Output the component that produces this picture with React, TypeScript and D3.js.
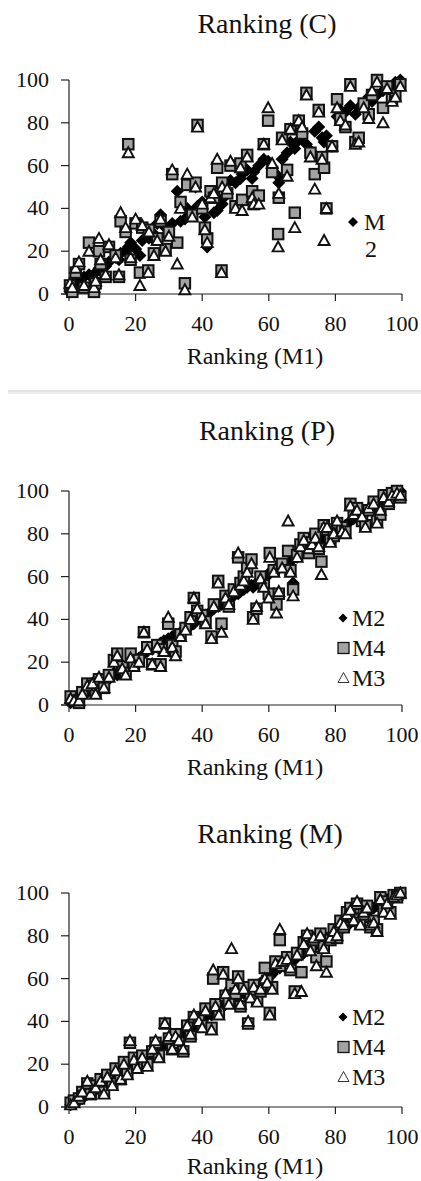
import React from "react";
import * as d3 from "d3";

// ---------- data ----------
const AXIS_TICKS = [0, 20, 40, 60, 80, 100];
const X_TITLE = "Ranking (M1)";

// Panel C
const C_X = [0.3,1,2,3,4.5,6,7.5,8,9,9.5, 11,12,14,15,15.5,17,17.8,18.5,20,21.3, 22,23.8,24,25.5,26.5,27.5,29,30,31,32.5, 33.5,34.8,35.5,37,38,38.6,40,40.8,41.5,42.5, 43.5,44.5,45.8,46,47.5,48.5,50,51.5,52,53.5, 55,55.5,57,58.5,59.8,61,62.8,63,64,65.5, 66.5,67.8,69,70,71.3,72.5,73.8,75,76,76.6, 77.3,79,80.5,81.5,83,84.5,86,87,88.5,90, 91,92.5,94.3,95.5,97,98,99.5];
const C_M2 = [1,2,6,5,8,9,7,10,12,11, 13,15,17,16,19,20,22,24,21,18, 25,27,26,28,33,37,31,30,33,48, 34,35,40,38,50,41,43,36,22,46, 38,39,44,42,47,53,52,54,56,58, 54,57,60,63,62,59,55,52,63,66, 71,68,72,75,70,67,76,78,73,71, 74,69,83,86,85,88,84,87,89,92, 90,93,95,96,97,99,100];
const C_M4 = [4,1,10,14,3,24,1,5,20,14, 8,22,18,8,34,29,70,16,33,10, 31,11,30,19,26,34,21,29,56,24, 43,5,51,37,52,79,40,31,26,48, 45,59,11,52,47,60,41,61,44,65, 48,42,46,70,81,57,28,45,73,58, 77,38,81,75,94,66,56,86,64,59, 40,69,91,82,78,98,71,73,89,84, 93,100,87,97,91,93,98];
const C_M3 = [5,3,12,15,4,20,3,6,26,16, 9,23,17,9,38,31,66,17,35,4, 32,10,29,18,25,35,20,27,58,14, 40,2,56,36,50,78,42,30,24,45, 47,63,10,50,49,62,40,59,39,64, 45,42,42,70,87,61,22,47,72,55, 77,31,81,78,93,64,49,85,63,25, 40,69,87,81,79,97,70,71,87,82, 95,99,80,96,90,92,97];

// Panel P
const P_X = [0.5,1.5,3,4,5.5,7,8,9,10.5,12, 13.5,14.5,16,17,18.5,19.5,21,22.5,23.5,25, 26.5,27.5,28.5,29.8,31,32,33.5,35,36.5,37.5, 38.5,40,41,42.8,43.5,44.8,45.8,47,48,49.5, 50.8,51.5,52.5,53.5,54.8,55.3,56.3,57.5,58.5,60, 60.3,61.5,62.3,63,64,65.8,66.5,67.3,68.5,69.5, 70.5,72,73,74,75,75.8,76.5,77.5,78.5,79.5, 80.5,82,83,84.5,85.5,86.5,88,89,90,91.5, 92.5,93.5,94.5,96,97,98.5,99.5];
const P_M2 = [1,2,3,4,6,7,8,10,11,12, 15,14,16,18,19,20,22,24,25,26, 27,29,30,31,32,33,34,36,37,38, 40,41,42,44,45,46,47,48,50,51, 52,53,54,55,56,55,57,58,59,61, 62,63,64,64,65,66,67,57,69,71, 72,73,74,75,76,77,78,79,80,81, 82,83,84,86,87,88,89,90,91,92, 94,95,96,97,98,99,100];
const P_M4 = [4,2,1,6,10,9,6,12,8,14, 21,24,18,15,24,19,21,34,27,19, 28,19,26,38,28,25,33,36,41,50, 44,42,39,32,47,58,38,51,46,54, 69,57,60,64,68,41,45,60,56,52, 71,63,47,52,66,72,63,54,70,75, 78,71,76,80,73,67,84,82,77,79, 85,83,81,94,90,92,86,84,91,95, 86,89,98,94,99,100,97];
const P_M3 = [3,2,2,5,9,10,5,13,8,13, 20,23,17,14,22,18,20,34,26,19, 27,18,25,41,27,23,32,35,40,50, 45,41,38,31,46,57,34,50,47,53, 71,56,58,62,66,40,46,59,55,50, 69,62,43,53,64,86,62,51,69,74, 77,73,75,78,74,61,83,83,76,80, 86,81,80,93,89,91,88,83,92,94, 85,91,97,95,98,99,98];

// Panel M
const M_X = [0.5,1.5,3,4,5.5,6.5,8,9.5,10.5,11.5, 13,14,15.5,16.5,17.5,18.3,19.5,20.5,22,23.5, 25,26,27,28.8,30,31,32,33,34.3,35.5, 36.5,37.5,39,40,41,42.8,43.3,44,45,46.3, 47,48,48.8,50,50.8,51.5,52.5,53.8,54.5,55.5, 56.5,57.5,58.8,59.5,60.3,61,62,63.3,64,65.5, 66.5,67.8,68.5,69.8,70.5,71.5,72.5,73.5,74.3,75.5, 76.5,77.3,78.5,79.5,80.5,81.5,82.5,83.5,84.5,85.5, 86.5,87.5,88.5,89.5,90.5,91.5,92.5,93.5,94.5,95.5, 96.5,97.5,98.5,99.5];
const M_M2 = [1,2,3,4,6,7,8,10,11,12, 13,14,16,17,18,19,20,21,22,24, 25,27,28,29,30,31,33,34,35,36, 37,38,40,41,42,43,44,45,46,47, 48,49,50,51,52,53,53,54,55,56, 57,58,59,60,61,62,64,65,66,67, 68,69,70,71,72,73,74,75,76,77, 78,79,80,81,82,83,84,85,86,87, 88,89,90,91,92,93,94,95,96,97, 97,98,99,100];
const M_M4 = [2,3,4,7,11,6,10,13,7,15, 11,18,13,21,16,30,23,19,24,20, 26,30,24,39,32,27,34,30,26,38, 33,42,41,38,46,37,60,48,44,63, 52,49,57,53,61,47,56,39,52,57, 50,54,65,59,44,56,68,78,66,70, 64,54,72,63,77,80,74,78,70,81, 75,68,78,83,79,87,84,91,93,88, 95,86,90,94,84,87,83,98,92,96, 91,99,98,100];
const M_M3 = [1,2,5,7,12,6,9,12,6,14, 10,17,13,20,15,31,22,18,23,19, 27,31,23,39,33,27,33,31,27,38, 34,43,40,37,45,36,64,47,43,62, 53,48,74,55,60,48,55,40,51,56, 49,55,60,58,43,55,67,83,68,69, 65,53,71,54,76,81,73,79,66,80, 74,63,79,82,80,86,85,90,92,87, 96,85,91,93,85,86,82,97,91,95, 90,98,99,100];

// ---------- styles ----------
const FONT = "Liberation Serif, Tinos, Times New Roman, DejaVu Serif, serif";
const SQ_FILL = "#a3a3a3";
const W = 421;
const H = 1181;

const diamondPath = (r: number) => `M0,${-r}L${r},0L0,${r}L${-r},0Z`;
const triPath = (w: number, h: number) =>
  `M0,${-h / 2 - 0.5}L${w / 2},${h / 2 - 0.5}L${-w / 2},${h / 2 - 0.5}Z`;

type PanelProps = {
  title: string;
  titleY: number;
  titleX: number;
  top: number;
  bottom: number;
  xs: number[];
  m2: number[];
  m4: number[];
  m3: number[];
  legend: "short" | "full";
  legendY: number;
  xTitleOffset: number;
};

function T(props: any) {
  return <text fontFamily={FONT} fill="#111" {...props} />;
}

function Panel(p: PanelProps) {
  const x = d3.scaleLinear().domain([0, 100]).range([69, 402]);
  const y = d3.scaleLinear().domain([0, 100]).range([p.bottom, p.top]);
  const x0 = x(0);
  const y0 = y(0);
  return (
    <g>
      <T x={p.titleX} y={p.titleY} fontSize={28} textAnchor="middle">
        {p.title}
      </T>
      {/* axes */}
      <line x1={x0} x2={x0} y1={y(100)} y2={y0} stroke="#222" strokeWidth={1.2} />
      <line x1={x0 - 8} x2={x(100)} y1={y0} y2={y0} stroke="#222" strokeWidth={1.2} />
      {AXIS_TICKS.map((t) => (
        <g key={"y" + t}>
          <line x1={x0 - 8} x2={x0} y1={y(t)} y2={y(t)} stroke="#222" strokeWidth={1.2} />
          <T x={49} y={y(t) + 7} fontSize={22} textAnchor="end">
            {t}
          </T>
        </g>
      ))}
      {AXIS_TICKS.map((t) => (
        <g key={"x" + t}>
          <line x1={x(t)} x2={x(t)} y1={y0} y2={y0 + 7} stroke="#222" strokeWidth={1.2} />
          <T x={x(t)} y={y0 + 37} fontSize={22} textAnchor="middle">
            {t}
          </T>
        </g>
      ))}
      <T x={255} y={y0 + p.xTitleOffset} fontSize={24} textAnchor="middle">
        {X_TITLE}
      </T>
      {/* series */}
      {p.xs.map((v, i) => (
        <path key={"d" + i} d={diamondPath(6.5)} transform={`translate(${x(v)},${y(p.m2[i])})`} fill="#000" />
      ))}
      {p.xs.map((v, i) => (
        <rect
          key={"s" + i}
          x={x(v) - 5.25}
          y={y(p.m4[i]) - 5.25}
          width={10.5}
          height={10.5}
          fill={SQ_FILL}
          stroke="#111"
          strokeWidth={2}
        />
      ))}
      {p.xs.map((v, i) => (
        <path
          key={"t" + i}
          d={triPath(11, 10)}
          transform={`translate(${x(v)},${y(p.m3[i])})`}
          fill="#fff"
          stroke="#111"
          strokeWidth={1.9}
        />
      ))}
      {/* legend */}
      {p.legend === "short" ? (
        <g>
          <path d={diamondPath(5)} transform={`translate(353,${p.legendY})`} fill="#000" />
          <T x={364} y={p.legendY + 8} fontSize={24}>M</T>
          <T x={365} y={p.legendY + 35} fontSize={24}>2</T>
        </g>
      ) : (
        <g>
          <path d={diamondPath(4.5)} transform={`translate(343,${p.legendY})`} fill="#000" />
          <T x={352} y={p.legendY + 8} fontSize={24}>M2</T>
          <rect x={338} y={p.legendY + 30 - 5.5} width={11} height={11} fill={SQ_FILL} stroke="#111" strokeWidth={1.3} />
          <T x={352} y={p.legendY + 38} fontSize={24}>M4</T>
          <path d={triPath(11, 10)} transform={`translate(343.5,${p.legendY + 60})`} fill="#fff" stroke="#333" strokeWidth={1} />
          <T x={352} y={p.legendY + 68} fontSize={24}>M3</T>
        </g>
      )}
    </g>
  );
}

export default function App() {
  return (
    <svg
      width={W}
      height={H}
      viewBox={`0 0 ${W} ${H}`}
      style={{ position: "absolute", left: 0, top: 0, background: "#fff" }}
    >
      <rect x={0} y={0} width={W} height={H} fill="#fff" />
      <Panel title="Ranking (C)" titleX={267} titleY={33} top={80} bottom={294}
        xs={C_X} m2={C_M2} m4={C_M4} m3={C_M3} legend="short" legendY={222} xTitleOffset={70} />
      <line x1={8} x2={W} y1={391} y2={391} stroke="#c4c4c4" strokeWidth={1} />
      <line x1={8} x2={W} y1={393} y2={393} stroke="#dcdcdc" strokeWidth={1} />
      <Panel title="Ranking (P)" titleX={267} titleY={440} top={491} bottom={705}
        xs={P_X} m2={P_M2} m4={P_M4} m3={P_M3} legend="full" legendY={618} xTitleOffset={70} />
      <Panel title="Ranking (M)" titleX={270} titleY={843} top={893} bottom={1107}
        xs={M_X} m2={M_M2} m4={M_M4} m3={M_M3} legend="full" legendY={1017} xTitleOffset={67} />
    </svg>
  );
}
